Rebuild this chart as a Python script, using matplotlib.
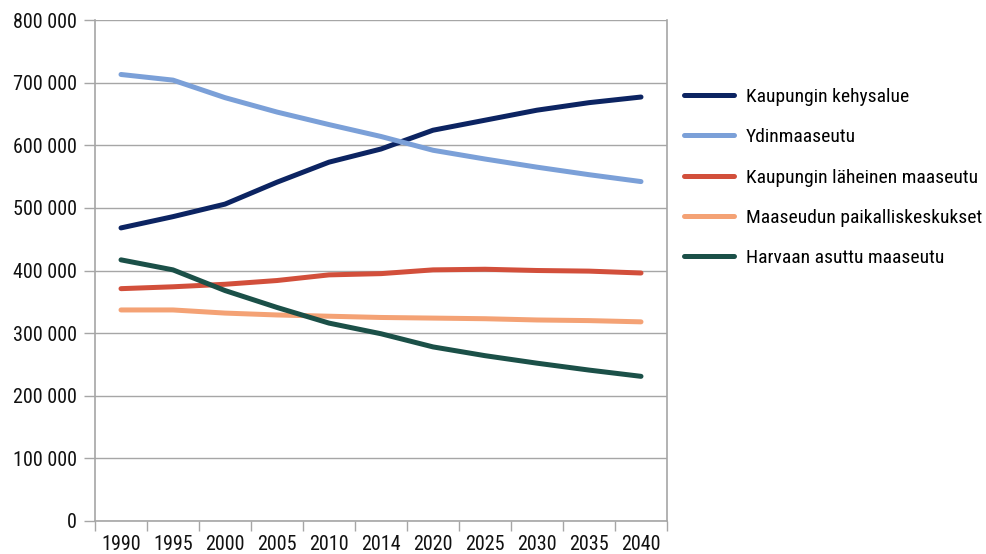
import matplotlib
matplotlib.use("Agg")
import matplotlib.pyplot as plt
from matplotlib import font_manager
from matplotlib.ticker import FuncFormatter, FixedLocator

years = ["1990", "1995", "2000", "2005", "2010", "2014", "2020", "2025", "2030", "2035", "2040"]

kehysalue = [468000, 486000, 506000, 541000, 573000, 594000, 624000, 640000, 656000, 668000, 677000]
ydinmaaseutu = [713000, 704000, 676000, 653000, 633000, 614000, 592000, 578000, 565000, 553000, 542000]
laheinen = [371000, 374000, 378000, 384000, 393000, 395000, 401000, 402000, 400000, 399000, 396000]
paikalliskeskukset = [337000, 337000, 332000, 329000, 327000, 325000, 324000, 323000, 321000, 320000, 318000]
harvaan = [417000, 401000, 368000, 341000, 316000, 299000, 278000, 264000, 252000, 241000, 231000]

series = [
    ("Kaupungin kehysalue", kehysalue, "#0c2462"),
    ("Ydinmaaseutu", ydinmaaseutu, "#7ba0d8"),
    ("Kaupungin läheinen maaseutu", laheinen, "#d24f3b"),
    ("Maaseudun paikalliskeskukset", paikalliskeskukset, "#f4a275"),
    ("Harvaan asuttu maaseutu", harvaan, "#1b5048"),
]

# pick a condensed / narrow font if one is installed
chosen = None
cands = []
for f in font_manager.fontManager.ttflist:
    n = f.name
    st = str(f.stretch)
    if f.style != 'normal':
        continue
    if f.weight not in (400, 'normal', 'regular'):
        continue
    if 'Narrow' in n or 'Condensed' in n or st in ('condensed', 'semi-condensed', 'extra-condensed', '300', '400', '500') and st != 'normal':
        cands.append(f)
pref = ['Liberation Sans Narrow', 'Roboto Condensed', 'Open Sans Condensed', 'Noto Sans', 'DejaVu Sans']
cands.sort(key=lambda f: pref.index(f.name) if f.name in pref else 99)
narrow = False
if cands:
    chosen = cands[0]
    plt.rcParams['font.family'] = [chosen.name, 'DejaVu Sans']
    plt.rcParams['font.stretch'] = chosen.stretch
    narrow = True
else:
    plt.rcParams['font.family'] = ['Liberation Sans', 'DejaVu Sans']

fs_tick = 14.5 if narrow else 12.5
fs_leg = 14 if narrow else 12.5

fig = plt.figure(figsize=(9.86, 5.54), dpi=100)
ax = fig.add_axes([95/986, 33/554, (667-95)/986, (521-20)/554])

x = list(range(len(years)))
handles = []
for name, vals, col in series:
    h, = ax.plot(x, vals, color=col, lw=3.6, solid_capstyle='round', solid_joinstyle='round', label=name)
    handles.append(h)

ax.set_xlim(-0.5, len(years) - 0.5)
ax.set_ylim(0, 800000)
ax.set_yticks(range(0, 800001, 100000))
ax.yaxis.set_major_formatter(FuncFormatter(lambda v, p: "0" if v == 0 else f"{int(v):,}".replace(",", " ")))
ax.grid(axis='y', color='#a6a6a6', lw=1)
ax.set_axisbelow(True)

ax.set_xticks(x)
ax.set_xticklabels(years)
ax.xaxis.set_minor_locator(FixedLocator([i - 0.5 for i in range(len(years) + 1)]))
ax.tick_params(axis='x', which='major', length=0, pad=10, labelsize=fs_tick, labelcolor='#111111')
ax.tick_params(axis='x', which='minor', length=7, color='#a6a6a6', width=1)
ax.tick_params(axis='y', length=8, color='#a6a6a6', width=1, labelsize=fs_tick, pad=5, labelcolor='#111111')

for s in ['left', 'bottom', 'right']:
    ax.spines[s].set_color('#a6a6a6')
    ax.spines[s].set_linewidth(1.2)
ax.spines['top'].set_visible(False)

leg = fig.legend(handles=handles, loc='upper left', bbox_to_anchor=(676/986, 1 - 80/554),
                 frameon=False, fontsize=fs_leg, handlelength=2.6, handletextpad=0.6,
                 labelspacing=1.15, borderaxespad=0)

fig.savefig("out.png", dpi=100)
